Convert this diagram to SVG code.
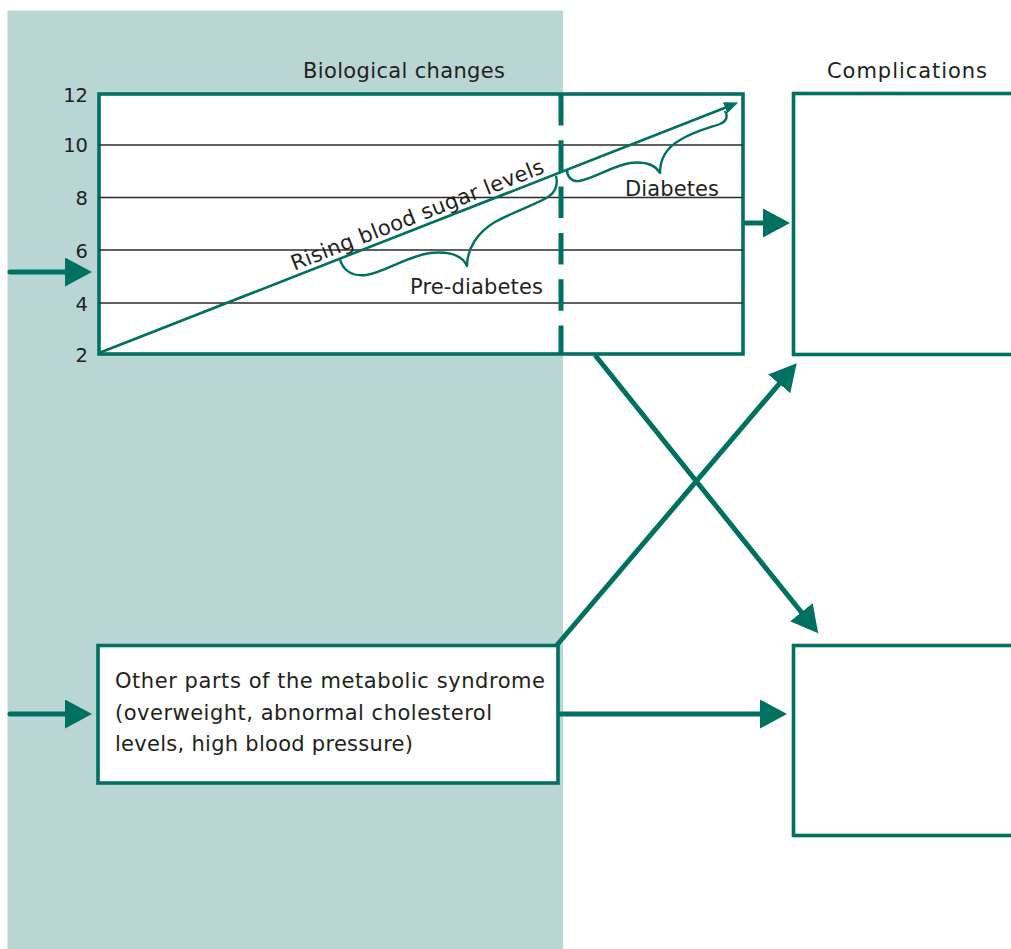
<svg xmlns="http://www.w3.org/2000/svg" width="1011" height="949" viewBox="0 0 1011 949">
  <defs>
    <style>
      .lbl { font-family: "DejaVu Sans", "Open Sans", "Liberation Sans", sans-serif; fill: #231f20; }
      .t21 { font-size: 21px; }
      .tick { font-size: 19.5px; text-anchor: end; }
      .box { fill: #ffffff; stroke: #007060; stroke-width: 3.6; }
      .grid { stroke: #2a2a2a; stroke-width: 1.3; }
      .thick { fill: none; stroke: #007060; stroke-width: 5; }
      .brace { fill: none; stroke: #007060; stroke-width: 2.4; stroke-linejoin: round; }
    </style>
    <marker id="head" markerUnits="userSpaceOnUse" markerWidth="30" markerHeight="30" refX="2" refY="14.5" orient="auto">
      <path d="M0,0 L27,14.5 L0,29 Z" fill="#007060"/>
    </marker>
    <marker id="headSmall" markerUnits="userSpaceOnUse" markerWidth="16" markerHeight="14" refX="2" refY="6" orient="auto">
      <path d="M0,0 L14,6 L0,12 Z" fill="#007060"/>
    </marker>
  </defs>

  <!-- shaded column for biological changes -->
  <rect x="7.5" y="10.5" width="555.5" height="939" fill="#b9d6d4"/>

  <!-- chart of blood sugar levels -->
  <g id="chart">
    <text class="lbl t21" x="303" y="78" textLength="202">Biological changes</text>
    <rect class="box" x="99" y="94" width="644" height="260"/>
    <line class="grid" x1="99" y1="145" x2="743" y2="145"/>
    <line class="grid" x1="99" y1="197.5" x2="743" y2="197.5"/>
    <line class="grid" x1="99" y1="250" x2="743" y2="250"/>
    <line class="grid" x1="99" y1="303" x2="743" y2="303"/>
    <g class="lbl tick">
      <text x="88" y="102">12</text>
      <text x="88" y="152">10</text>
      <text x="88" y="205">8</text>
      <text x="88" y="258">6</text>
      <text x="88" y="311">4</text>
      <text x="88" y="362">2</text>
    </g>
    <line x1="561" y1="94" x2="561" y2="354" stroke="#007060" stroke-width="5" stroke-dasharray="31.5 14.8"/>
    <line x1="99" y1="353" x2="727" y2="107" stroke="#007060" stroke-width="2.6" marker-end="url(#headSmall)"/>
    <text class="lbl" font-size="21" transform="translate(296 275.5) rotate(-21.4)" x="0" y="-5" textLength="270">Rising blood sugar levels</text>
    <path class="brace" d="M340,259 C342,268 350,277 366,275 C385,272 405,257 430,253 C450,251 462,255 467,266 C467,248 478,232 495,222 C515,211 537,204 548,197 C557,191 558,184 556,176"/>
    <text class="lbl t21" x="410" y="294" textLength="133">Pre-diabetes</text>
    <path class="brace" d="M567,170 C567,176 571,182 579,181 C595,178 612,166 630,163 C648,161 656,166 660,173 C660,160 666,148 680,140 C695,131 712,127 720,124 C727,121 728,116 725,111"/>
    <text class="lbl t21" x="625" y="196" textLength="94">Diabetes</text>
  </g>

  <!-- other parts of the metabolic syndrome -->
  <g id="metabolic">
    <rect class="box" x="98" y="645.5" width="460" height="137.5"/>
    <text class="lbl t21" x="115" y="688" textLength="430">Other parts of the metabolic syndrome</text>
    <text class="lbl t21" x="115" y="719.5" textLength="377">(overweight, abnormal cholesterol</text>
    <text class="lbl t21" x="115" y="751" textLength="298">levels, high blood pressure)</text>
  </g>

  <!-- complications -->
  <g id="complications-top">
    <text class="lbl t21" x="827" y="78" textLength="160">Complications</text>
    <rect class="box" x="793.5" y="93.5" width="300" height="261"/>
  </g>
  <g id="complications-bottom">
    <rect class="box" x="793.5" y="645.5" width="300" height="190"/>
  </g>

  <!-- arrows -->
  <g id="connectors">
    <line class="thick" x1="10" y1="272" x2="67" y2="272" stroke-linecap="round" marker-end="url(#head)"/>
    <line class="thick" x1="10" y1="714" x2="67" y2="714" stroke-linecap="round" marker-end="url(#head)"/>
    <line class="thick" x1="743" y1="223" x2="765" y2="223" marker-end="url(#head)"/>
    <line class="thick" x1="558" y1="714" x2="762" y2="714" marker-end="url(#head)"/>
    <line class="thick" x1="595" y1="355" x2="802.6" y2="613.8" marker-end="url(#head)"/>
    <line class="thick" x1="557" y1="645" x2="780.5" y2="382.3" marker-end="url(#head)"/>
  </g>
</svg>
